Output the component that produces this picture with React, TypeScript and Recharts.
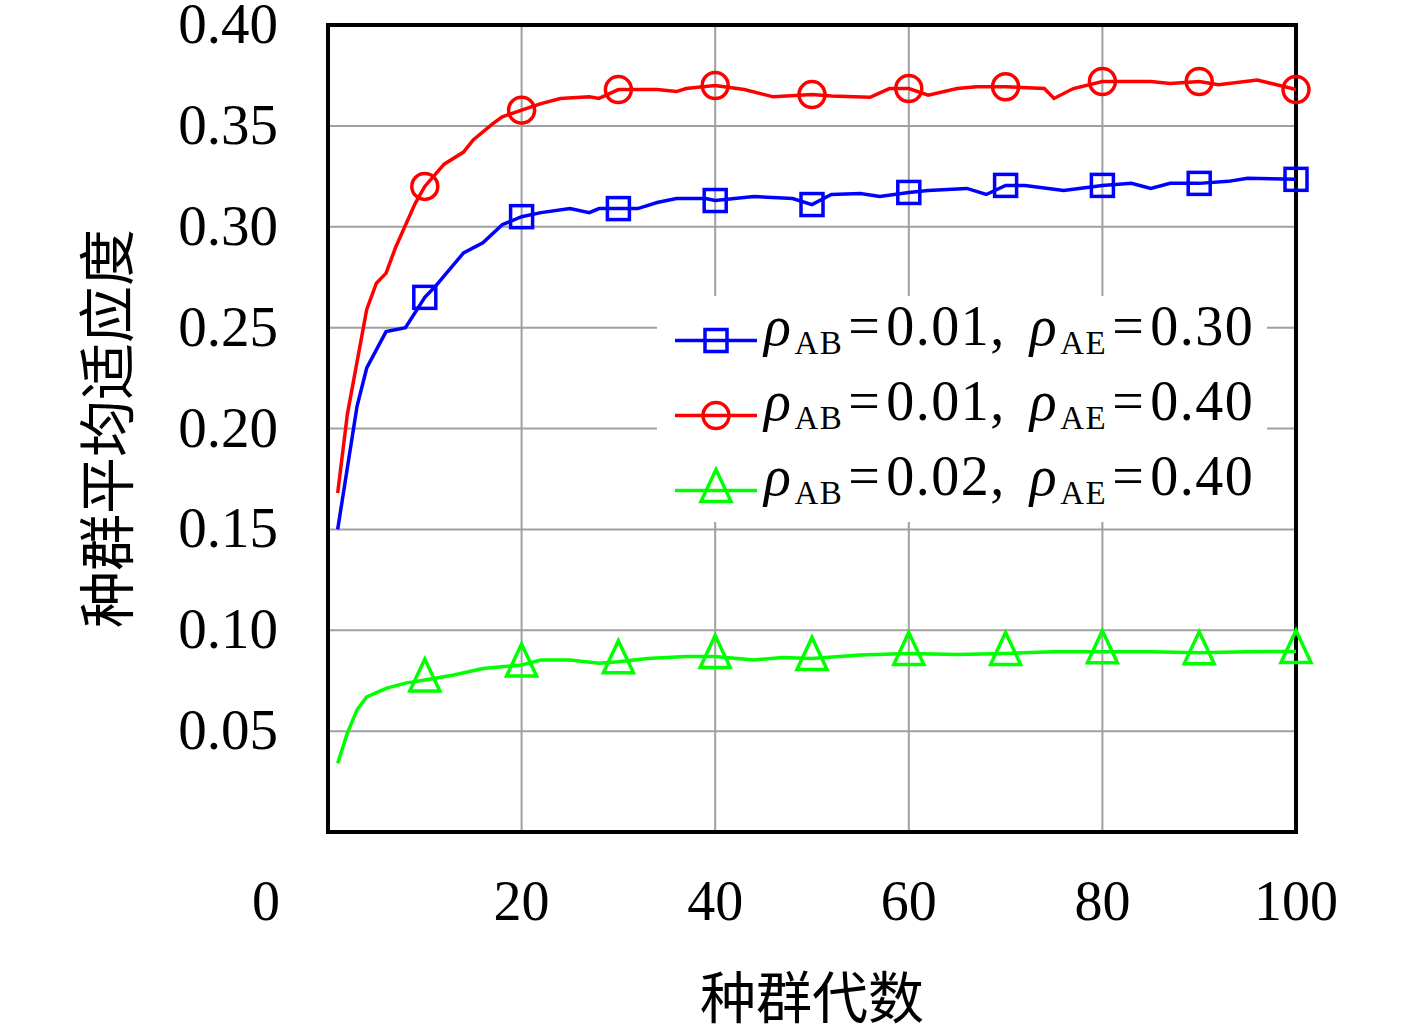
import React from 'react';
import { LineChart, Line, XAxis, YAxis, CartesianGrid, ReferenceArea, Legend } from 'recharts';

const xTicks = [0, 20, 40, 60, 80, 100];
const yTicks = [0.05, 0.1, 0.15, 0.2, 0.25, 0.3, 0.35, 0.4];
const xTitle = '种群代数';
const yTitle = '种群平均适应度';

// rho_AB = 0.01, rho_AE = 0.30 (blue, squares)
const gensB = [1, 3, 4, 6, 8, 10, 11, 14, 16, 18, 20, 22, 25, 27, 28, 30, 32, 34, 36, 39, 40, 44, 48, 50, 52, 55, 57, 60, 62, 66, 68, 70, 72, 76, 80, 83, 85, 87, 90, 93, 95, 100];
const fitB = [0.150, 0.211, 0.230, 0.248, 0.250, 0.265, 0.270, 0.287, 0.292, 0.301, 0.305, 0.307, 0.309, 0.307, 0.309, 0.309, 0.309, 0.312, 0.314, 0.314, 0.313, 0.315, 0.314, 0.311, 0.316, 0.3165, 0.315, 0.317, 0.318, 0.319, 0.316, 0.3205, 0.3205, 0.318, 0.3205, 0.3215, 0.319, 0.3215, 0.3215, 0.3225, 0.324, 0.3235];

// rho_AB = 0.01, rho_AE = 0.40 (red, circles)
const gensR = [1, 2, 4, 5, 6, 7, 9, 10, 12, 14, 15, 17, 18, 20, 22, 24, 27, 28, 30, 34, 36, 37, 40, 43, 46, 50, 52, 56, 58, 60, 62, 65, 67, 70, 74, 75, 77, 80, 85, 87, 90, 92, 96, 98, 100];
const fitR = [0.168, 0.207, 0.259, 0.272, 0.277, 0.290, 0.3115, 0.320, 0.331, 0.337, 0.343, 0.351, 0.3545, 0.3578, 0.361, 0.3636, 0.3644, 0.3636, 0.368, 0.368, 0.367, 0.3685, 0.370, 0.368, 0.3644, 0.3655, 0.3648, 0.3642, 0.3685, 0.3685, 0.3652, 0.3685, 0.3694, 0.3694, 0.3685, 0.3636, 0.3685, 0.372, 0.372, 0.371, 0.372, 0.3704, 0.3727, 0.3704, 0.368];

// rho_AB = 0.02, rho_AE = 0.40 (green, triangles)
const gensG = [1, 2, 3, 4, 6, 8, 10, 13, 16, 20, 22, 25, 28, 30, 33, 37, 40, 44, 47, 50, 55, 60, 65, 70, 75, 80, 85, 90, 95, 100];
const fitG = [0.034, 0.049, 0.0605, 0.067, 0.0712, 0.0738, 0.0753, 0.0778, 0.081, 0.0828, 0.0853, 0.0853, 0.0836, 0.0844, 0.086, 0.087, 0.087, 0.0853, 0.0865, 0.086, 0.0877, 0.0885, 0.088, 0.0885, 0.0894, 0.0894, 0.0894, 0.0888, 0.0894, 0.0895];

const rhoAB = ['0.01', '0.01', '0.02'];
const rhoAE = ['0.30', '0.40', '0.40'];
const colors = ['#0000ff', '#ff0000', '#00ff00'];
const shapes = ['square', 'circle', 'triangle'];

const toData = (g: number[], f: number[]) => g.map((gen, i) => ({ gen, fit: f[i] }));
const seriesData = [toData(gensB, fitB), toData(gensR, fitR), toData(gensG, fitG)];

const NUM_FONT = '"Liberation Serif", "Times New Roman", serif';
const CJK_FONT = '"Noto Sans CJK SC", sans-serif';
const LINE_W = 3.5;

function Marker({ shape, cx, cy, color }: { shape: string; cx: number; cy: number; color: string }) {
  if (shape === 'square') {
    return <rect x={cx - 11} y={cy - 11} width={22} height={22} fill="none" stroke={color} strokeWidth={3.5} />;
  }
  if (shape === 'circle') {
    return <circle cx={cx} cy={cy} r={13} fill="none" stroke={color} strokeWidth={3.5} />;
  }
  return (
    <polygon
      points={`${cx},${cy - 21} ${cx + 15},${cy + 11} ${cx - 15},${cy + 11}`}
      fill="none"
      stroke={color}
      strokeWidth={3.5}
      strokeLinejoin="miter"
    />
  );
}

const makeDot = (shape: string, color: string) => (props: any) => {
  const { cx, cy, payload, index } = props;
  const key = `dot-${shape}-${index}`;
  if (!payload || payload.gen % 10 !== 0 || cx == null || cy == null) return <g key={key} />;
  return (
    <g key={key}>
      <Marker shape={shape} cx={cx} cy={cy} color={color} />
    </g>
  );
};

const XTick = (props: any) => {
  const { x, y, payload } = props;
  const dx = payload.value === 0 ? -62 : 0;
  return (
    <text x={x + dx} y={y + 88} textAnchor="middle" fontFamily={NUM_FONT} fontSize={56} fill="#000">
      {payload.value}
    </text>
  );
};

const YTick = (props: any) => {
  const { x, y, payload } = props;
  return (
    <text x={x - 50} y={y + 18} textAnchor="end" fontFamily={NUM_FONT} fontSize={57} fill="#000">
      {Number(payload.value).toFixed(2)}
    </text>
  );
};

const XTitle = (props: any) => {
  const vb = props.viewBox || { x: 328, y: 832, width: 968, height: 196 };
  return (
    <text x={vb.x + vb.width / 2} y={vb.y + 186} textAnchor="middle" fontFamily={CJK_FONT} fontSize={56} fill="#000">
      {xTitle}
    </text>
  );
};

const YTitle = (props: any) => {
  const vb = props.viewBox || { x: 0, y: 25, width: 328, height: 807 };
  const cx = vb.x + 128;
  const cy = vb.y + vb.height / 2;
  return (
    <text transform={`translate(${cx},${cy}) rotate(-90)`} textAnchor="middle" fontFamily={CJK_FONT} fontSize={57} fill="#000">
      {yTitle}
    </text>
  );
};

const renderLegend = (props: any) => {
  const payload = props.payload || [];
  return (
    <div style={{ width: 610, height: 226, background: '#fff', boxSizing: 'border-box', paddingTop: 7 }}>
      {rhoAB.map((ab, i) => {
        const color = (payload[i] && payload[i].color) || colors[i];
        return (
          <div key={i} style={{ display: 'flex', alignItems: 'center', height: 75 }}>
            <svg width={82} height={75} style={{ marginLeft: 18, flex: 'none' }}>
              <line x1={0} y1={37.5} x2={82} y2={37.5} stroke={color} strokeWidth={LINE_W} />
              <Marker shape={shapes[i]} cx={41} cy={37.5} color={color} />
            </svg>
            <span
              style={{
                marginLeft: 7,
                fontFamily: NUM_FONT,
                fontSize: 56,
                lineHeight: '75px',
                whiteSpace: 'nowrap',
                color: '#000',
                position: 'relative',
                top: -6,
                letterSpacing: 1.5,
              }}
            >
              <i>ρ</i>
              <span style={{ fontSize: 33, verticalAlign: '-9px', marginLeft: 2 }}>AB</span>
              <span style={{ margin: '0 5px' }}>=</span>
              {ab},
              <span style={{ marginLeft: 24 }}>
                <i>ρ</i>
              </span>
              <span style={{ fontSize: 33, verticalAlign: '-9px', marginLeft: 2 }}>AE</span>
              <span style={{ margin: '0 5px' }}>=</span>
              {rhoAE[i]}
            </span>
          </div>
        );
      })}
    </div>
  );
};

export default function App() {
  return (
    <div style={{ position: 'absolute', left: 0, top: 0, width: 1417, height: 1028, background: '#fff' }}>
      <LineChart width={1417} height={1028} margin={{ top: 25, right: 121, bottom: 0, left: 0 }}>
        <CartesianGrid stroke="#a0a0a0" strokeWidth={2} />
        <XAxis
          dataKey="gen"
          type="number"
          domain={[0, 100]}
          ticks={xTicks}
          interval={0}
          height={196}
          tickSize={0}
          tickMargin={0}
          axisLine={false}
          tickLine={false}
          tick={<XTick />}
          label={{ content: XTitle }}
        />
        <YAxis
          type="number"
          domain={[0, 0.4]}
          ticks={yTicks}
          interval={0}
          width={328}
          tickSize={0}
          tickMargin={0}
          axisLine={false}
          tickLine={false}
          tick={<YTick />}
          label={{ content: YTitle }}
        />
        {seriesData.map((d, i) => (
          <Line
            key={i}
            data={d}
            dataKey="fit"
            name={`ρAB=${rhoAB[i]}, ρAE=${rhoAE[i]}`}
            type="linear"
            stroke={colors[i]}
            strokeWidth={LINE_W}
            dot={makeDot(shapes[i], colors[i])}
            activeDot={false}
            isAnimationActive={false}
          />
        ))}
        <ReferenceArea
          x1={0}
          x2={100}
          y1={0}
          y2={0.4}
          fill="none"
          stroke="#000"
          strokeWidth={4}
          ifOverflow="visible"
        />
        <Legend
          layout="horizontal"
          verticalAlign="middle"
          align="center"
          content={renderLegend}
          wrapperStyle={{ left: 657, top: 296, width: 610, height: 226 }}
        />
      </LineChart>
    </div>
  );
}
